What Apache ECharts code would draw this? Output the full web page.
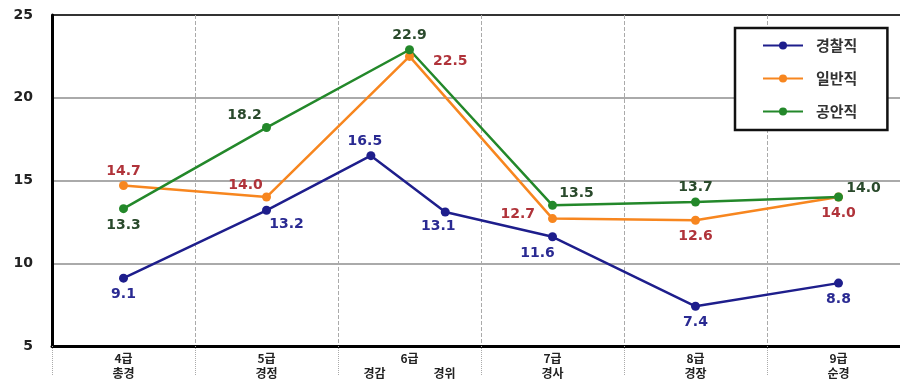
<!DOCTYPE html>
<html>
<head>
<meta charset="utf-8">
<script src="https://cdn.jsdelivr.net/npm/echarts@6/dist/echarts.min.js"></script>
<style>
  html, body { margin: 0; padding: 0; background: #fff; overflow: hidden; }
  #chart { width: 910px; height: 381px; }
</style>
</head>
<body>
<div id="chart"></div>
<script>
// Grade bands along the x axis (two-line labels)
const gradeLabels = ['4급\n총경', '5급\n경정', '6급\n경감\u3000\u3000\u3000\u3000경위', '7급\n경사', '8급\n경장', '9급\n순경'];

// Position of each point along the grade scale (band centres; 6급 split into 경감 / 경위 for 경찰직)
const policeX  = [0.5, 1.5, 2.23, 2.75, 3.5, 4.5, 5.5];
const generalX = [0.5, 1.5, 2.5, 3.5, 4.5, 5.5];
const publicX  = [0.5, 1.5, 2.5, 3.5, 4.5, 5.5];

// Values per series
const policeValues  = [9.1, 13.2, 16.5, 13.1, 11.6, 7.4, 8.8];
const generalValues = [14.7, 14.0, 22.5, 12.7, 12.6, 14.0];
const publicValues  = [13.3, 18.2, 22.9, 13.5, 13.7, 14.0];

const seriesNames = ['경찰직', '일반직', '공안직'];

// Y axis range
const yMin = 5, yMax = 25, yStep = 5;

// Label placement for each point: [position, dx, dy]
const policeLabelPlace  = [['bottom', 0, 0], ['bottom', 20, -2], ['top', -6, 2], ['bottom', -7, -2], ['bottom', -15, 0], ['bottom', 0, 0], ['bottom', 0, 0]];
const generalLabelPlace = [['top', 0, 2], ['top', -21, 5], ['right', 14, 5], ['left', -8, -4], ['bottom', 0, 0], ['bottom', 0, 0]];
const publicLabelPlace  = [['bottom', 0, 0], ['top', -22, 4], ['top', 0, 2], ['top', 24, 5], ['top', 0, 2], ['top', 25, 8]];

const labelFont = { fontFamily: 'DejaVu Sans', fontWeight: 'bold', fontSize: 14 };

function buildData(xs, ys, place, labelColor) {
  return xs.map((x, i) => ({
    value: [x, ys[i]],
    label: {
      show: true,
      position: place[i][0],
      offset: [place[i][1], place[i][2]],
      distance: 5,
      color: labelColor,
      formatter: ys[i].toFixed(1),
      ...labelFont
    }
  }));
}

function lineSeries(name, xs, ys, place, lineColor, labelColor) {
  return {
    name,
    type: 'line',
    xAxisIndex: 1,
    data: buildData(xs, ys, place, labelColor),
    symbol: 'circle',
    symbolSize: 9,
    lineStyle: { color: lineColor, width: 2.5 },
    itemStyle: { color: lineColor },
    z: 3
  };
}

const chart = echarts.init(document.getElementById('chart'), null, { renderer: 'canvas' });

chart.setOption({
  animation: false,
  backgroundColor: '#ffffff',
  grid: { left: 52, top: 15, right: 0, bottom: 30, containLabel: false },
  legend: {
    orient: 'vertical',
    left: 735,
    top: 28,
    data: seriesNames,
    backgroundColor: '#ffffff',
    borderColor: '#111',
    borderWidth: 2.5,
    padding: [10, 30, 11, 27],
    itemWidth: 40,
    itemHeight: 10,
    itemGap: 18,
    itemStyle: { borderWidth: 0 },
    textStyle: {
      fontFamily: 'Noto Sans CJK KR',
      fontWeight: 'bold',
      fontSize: 15,
      color: '#333',
      padding: [0, 0, 0, 8]
    },
    z: 10
  },
  xAxis: [
    {
      type: 'category',
      data: gradeLabels,
      boundaryGap: true,
      axisLine: { show: true, lineStyle: { color: '#000', width: 3 } },
      axisTick: { show: true, alignWithLabel: false, length: 30, lineStyle: { color: '#aaa', width: 1, type: 'dotted' } },
      axisLabel: {
        interval: 0,
        margin: 5,
        color: '#222',
        fontFamily: 'Noto Sans CJK KR',
        fontWeight: 'bold',
        fontSize: 12,
        lineHeight: 15
      },
      splitLine: { show: true, lineStyle: { color: '#aaa', width: 1, type: 'dashed' } }
    },
    {
      type: 'value',
      min: 0,
      max: gradeLabels.length,
      show: false
    }
  ],
  yAxis: {
    type: 'value',
    min: yMin,
    max: yMax,
    interval: yStep,
    axisLine: { show: true, lineStyle: { color: '#000', width: 3 } },
    axisTick: { show: false },
    axisLabel: {
      margin: 19,
      color: '#222',
      fontFamily: 'DejaVu Sans',
      fontWeight: 'bold',
      fontSize: 14
    },
    splitLine: {
      show: true,
      lineStyle: { color: ['#000', '#aaa', '#aaa', '#aaa', '#333'], width: 2 }
    }
  },
  series: [
    lineSeries(seriesNames[0], policeX, policeValues, policeLabelPlace, '#1e1e8c', '#2a2a92'),
    lineSeries(seriesNames[1], generalX, generalValues, generalLabelPlace, '#f7861f', '#b0333a'),
    lineSeries(seriesNames[2], publicX, publicValues, publicLabelPlace, '#23882a', '#2a4a2c')
  ]
});
</script>
</body>
</html>
